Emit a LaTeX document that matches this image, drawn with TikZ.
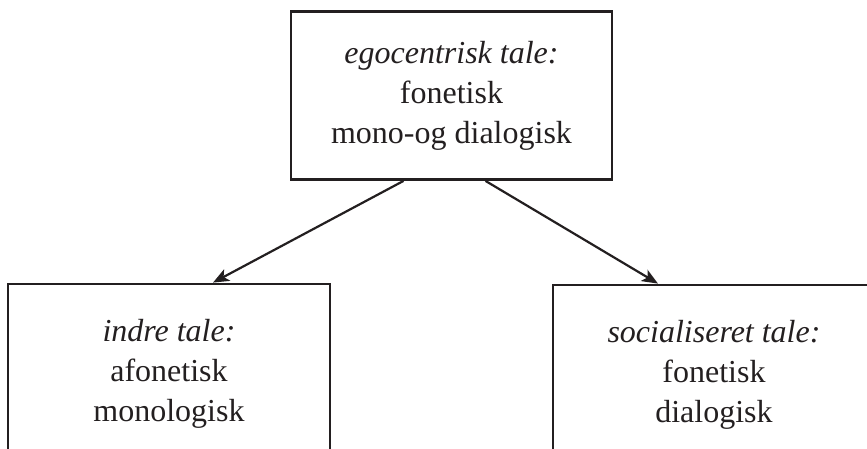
\documentclass[tikz,border=0pt]{standalone}
\usepackage{fontspec}
\setmainfont{Liberation Serif}
\usetikzlibrary{arrows.meta}
\definecolor{ink}{HTML}{231F20}
\begin{document}
\begin{tikzpicture}[x=1pt,y=-1pt,
  box/.style={draw=ink, line width=2.8pt, inner sep=0pt, align=center,
    font=\fontsize{32}{40}\selectfont, text=ink},
  conn/.style={draw=ink, line width=2.2pt, -{Stealth[length=16pt,width=13pt,inset=4pt]}}]
\useasboundingbox (0,0) rectangle (867,448);
\clip (0,0) rectangle (867,448);
\node[box, minimum width=321pt, minimum height=168pt] (ego) at (451.5,95.5)
  {\textit{egocentrisk tale:}\\fonetisk\\mono-og dialogisk};
\node[box, minimum width=322pt, minimum height=180pt] (indre) at (169,374)
  {\textit{indre tale:}\\afonetisk\\monologisk};
\node[box, minimum width=322pt, minimum height=180pt] (soc) at (714,375)
  {\textit{socialiseret tale:}\\fonetisk\\dialogisk};
\draw[conn] ([xshift=-48pt]ego.south) -- ([xshift=44pt]indre.north);
\draw[conn] ([xshift=34pt]ego.south) -- ([xshift=-56pt]soc.north);
\end{tikzpicture}
\end{document}
